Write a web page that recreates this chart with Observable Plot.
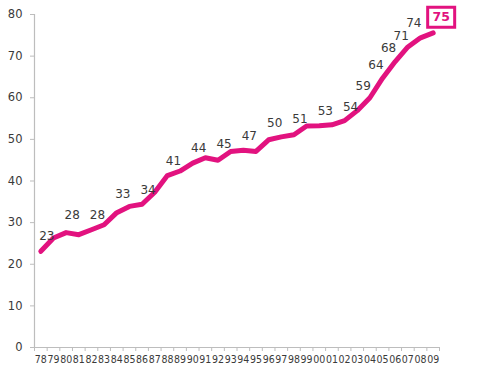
<!DOCTYPE html>
<html>
<head>
<meta charset="utf-8">
<script src="https://cdn.jsdelivr.net/npm/d3@7"></script>
<script src="https://cdn.jsdelivr.net/npm/@observablehq/plot@0.6"></script>
<style>
  html, body { margin: 0; padding: 0; background: #fff; }
  #chart svg { display: block; }
  #chart [aria-label="x-axis tick label"] text { font-family: "Liberation Sans Narrow", "DejaVu Sans Condensed", sans-serif; }
</style>
</head>
<body>
<div id="chart"></div>
<script>
// Years (x categories)
const years = ["78","79","80","81","82","83","84","85","86","87","88","89","90","91","92","93",
               "94","95","96","97","98","99","00","01","02","03","04","05","06","07","08","09"];
// Series values
const values = [23.1, 26.3, 27.6, 27.1, 28.3, 29.5, 32.4, 33.9, 34.4, 37.3, 41.3, 42.4, 44.3, 45.6, 45.0, 47.1,
                47.4, 47.1, 49.9, 50.6, 51.1, 53.2, 53.3, 53.5, 54.5, 56.9, 60.0, 64.7, 68.7, 72.2, 74.4, 75.6];
// Data labels shown on the chart
const labelYears = ["78","80","82","84","86","88","90","92","94","96","98","00","02","03","04","05","06","07"];
const labelValues = [23, 28, 28, 33, 34, 41, 44, 45, 47, 50, 51, 53, 54, 59, 64, 68, 71, 74];
// Highlighted final label
const highlightYear = "09";
const highlightValue = 75;
// Y axis ticks
const yTicks = [0, 10, 20, 30, 40, 50, 60, 70, 80];

const magenta = "#e2127f";
const axisGray = "#bdbdbd";
const textGray = "#3a3a3a";

const idx = y => years.indexOf(y);
const lineData = years.map((y, i) => ({i, v: values[i]}));
const labelData = labelYears.map((y, k) => ({i: idx(y), v: labelValues[k]}));
const hiData = [{i: idx(highlightYear), v: highlightValue}];
const centers = years.map((_, i) => i);
const bounds = years.map((_, i) => i - 0.5).concat([years.length - 0.5]);

const boxSymbol = { draw(ctx) { ctx.rect(-13.5, -10, 27, 20); } };

const chart = Plot.plot({
  width: 479,
  height: 370,
  marginLeft: 34,
  marginRight: 40,
  marginTop: 14,
  marginBottom: 23,
  style: { fontFamily: "'DejaVu Sans', Verdana, sans-serif", background: "#fff" },
  x: { type: "linear", domain: [-0.5, years.length - 0.5], axis: null },
  y: { domain: [0, 80], axis: null },
  marks: [
    Plot.ruleX([-0.5], { stroke: axisGray, strokeWidth: 1.2 }),
    Plot.ruleY([0], { stroke: axisGray, strokeWidth: 1.2 }),
    Plot.axisY(yTicks, { tickSize: 4, tickPadding: 8, stroke: axisGray, fill: textGray, fontSize: 11.5, label: null }),
    Plot.axisX(bounds, { tickSize: 4, stroke: axisGray, tickFormat: () => "", label: null }),
    Plot.axisX(centers, { tickSize: 0, tickPadding: 8, fill: textGray, fontSize: 10.5, tickFormat: i => years[i], label: null }),
    Plot.line(lineData, { x: "i", y: "v", stroke: magenta, strokeWidth: 5, strokeLinejoin: "round", strokeLinecap: "round" }),
    Plot.text(labelData, { x: "i", y: "v", text: d => String(d.v), dx: 6, dy: -16, fontSize: 12, fill: textGray }),
    Plot.dot(hiData, { x: "i", y: "v", symbol: boxSymbol, stroke: magenta, strokeWidth: 3, fill: "#fff", dx: 8, dy: -18 }),
    Plot.text(hiData, { x: "i", y: "v", text: d => String(d.v), dx: 8, dy: -18, fontSize: 12.5, fontWeight: "bold", fill: magenta })
  ]
});
document.getElementById("chart").appendChild(chart);
</script>
</body>
</html>
